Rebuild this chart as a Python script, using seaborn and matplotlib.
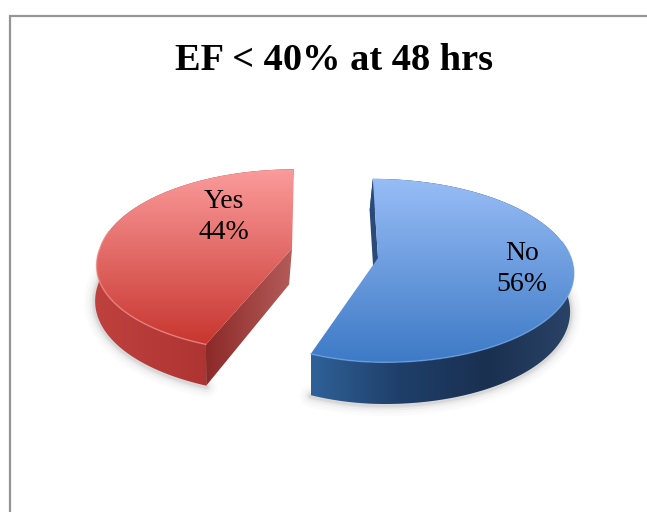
import numpy as np
import matplotlib
matplotlib.use("Agg")
import matplotlib.pyplot as plt
from matplotlib.colors import LinearSegmentedColormap
from matplotlib.patches import Polygon
import seaborn as sns

# Survey shares
categories = ["No", "Yes"]
shares = [56, 44]
title_text = "EF < 40% at 48 hrs"

top_colors = {"No": ["#98BDF6", "#3D7AC6"], "Yes": ["#FB9C9C", "#C8362F"]}
wall_colors = {"No": ["#2F6198", "#1F3F6A", "#1A3050", "#2A4468"],
               "Yes": ["#BE413D", "#B03634", "#902826"]}
cut_colors = ["#8C2A28", "#B45C5A"]
rim_colors = {"No": "#6FA3E6", "Yes": "#F08A85"}

sns.set_theme(style="white")
plt.rcParams["font.family"] = ["Liberation Serif", "DejaVu Serif"]

W, H = 647, 512
fig = plt.figure(figsize=(W / 100, H / 100), dpi=100, facecolor="white")
ax = fig.add_axes([0, 0, 1, 1])
ax.set_xlim(0, W)
ax.set_ylim(H, 0)
ax.axis("off")

# Perspective model of the tilted disc, one vanishing centre per exploded slice
TILT, PERSP = 90.0, 0.137
DEPTH = 36.0
GEOMETRY = {
    "No": dict(xc=335.0, y0=258.0, dx=43.0, radius=193.0, warp=23.0),
    "Yes": dict(xc=308.0, y0=248.5, dx=-16.0, radius=192.0, warp=-8.0),
}


def project(u, v, g):
    s = 1.0 / (1.0 + PERSP * v)
    x = g["xc"] + (g["radius"] * u + g["dx"]) * s
    x = x + g["warp"] * np.clip(-u, 0, None) * np.clip(-v, 0, None)
    return x, g["y0"] - TILT * v * s


def lower(x, y, v, g):
    s = 1.0 / (1.0 + PERSP * v)
    return g["xc"] + 0.995 * (x - g["xc"]) - 3 * np.clip(1 + v, 0, 1), y + DEPTH * s


def gradient_fill(poly, colors, vertical, zorder):
    cmap = LinearSegmentedColormap.from_list("g", colors)
    xs, ys = poly[:, 0], poly[:, 1]
    ramp = np.linspace(0, 1, 256)
    data = ramp[:, None] if vertical else ramp[None, :]
    extent = (xs.min(), xs.max(), ys.max(), ys.min())
    im = ax.imshow(data, cmap=cmap, extent=extent, aspect="auto", origin="upper",
                   zorder=zorder, interpolation="bilinear")
    clip = Polygon(poly, closed=True, transform=ax.transData, fc="none", ec="none")
    ax.add_patch(clip)
    im.set_clip_path(clip)
    ax.set_xlim(0, W)
    ax.set_ylim(H, 0)


# Angles run clockwise from twelve o'clock
angle = 0.0
for name, share in zip(categories, shares):
    sweep = 360.0 * share / sum(shares)
    theta = np.radians(np.linspace(angle, angle + sweep, 240))
    angle += sweep
    u, v = np.sin(theta), np.cos(theta)
    g = GEOMETRY[name]
    ax_, ay_ = project(u, v, g)
    bx, by = lower(ax_, ay_, v, g)
    apex = np.array(project(0.0, 0.0, g))
    apex_low = np.array(lower(apex[0], apex[1], 0.0, g))

    # Soft ground shadow along the lower edge
    for lw, alpha in zip([16, 12, 8, 5, 3], [0.015, 0.02, 0.03, 0.04, 0.05]):
        front = v < 0.25
        ax.plot(bx[front], by[front] + 1, color="black", lw=lw, alpha=alpha,
                solid_capstyle="round", zorder=1)

    # Outer wall
    wall = np.vstack([np.c_[ax_, ay_], np.c_[bx, by][::-1]])
    gradient_fill(wall, wall_colors[name], False, 2)

    if name == "Yes":
        # Cut face running back to the apex
        corner = np.array([ax_[0], ay_[0]])
        corner_low = np.array([bx[0], by[0]])
        face = np.array([corner, apex, apex_low, corner_low])
        gradient_fill(face, cut_colors, False, 3)
    else:
        # Sliver of the inner face behind the first edge
        back = np.array([[ax_[0], ay_[0]], apex, apex_low, [bx[0], by[0]]])
        ax.add_patch(Polygon(back, closed=True, fc="#2A4A78", ec="none", zorder=3))

    # Top face
    top = np.vstack([apex, np.c_[ax_, ay_]])
    gradient_fill(top, top_colors[name], True, 4)

    # Light rim where the top meets the wall
    front = v < 0.2
    ax.plot(ax_[front], ay_[front], color=rim_colors[name], lw=1.1, alpha=0.7, zorder=5)

# Outer chart frame
ax.plot([9.5, 9.5, W], [H, 16, 16], color="#959595", lw=1.6, zorder=6, clip_on=False,
        solid_joinstyle="miter")

ax.text(334, 60, title_text, ha="center", va="center", fontsize=27.6, fontweight="bold",
        color="black", zorder=7)
label_pos = {"No": (522, 269), "Yes": (224, 217)}
for name, share in zip(categories, shares):
    x, y = label_pos[name]
    ax.text(x, y, f"{name}\n{share}%", ha="center", va="center", fontsize=20,
            linespacing=1.3, color="black", zorder=7)

fig.savefig("out.png", dpi=100, facecolor="white")
